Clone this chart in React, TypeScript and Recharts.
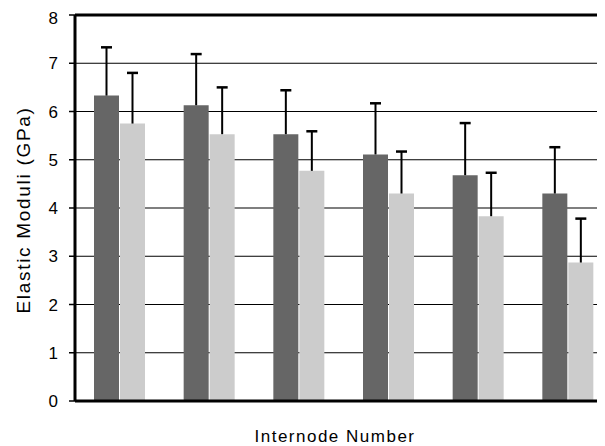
import React from "react";
import { BarChart, Bar, XAxis, YAxis, CartesianGrid, ReferenceLine } from "recharts";

// internode groups
const categories = ["1", "2", "3", "4", "5", "6"];
const darkValues = [6.33, 6.13, 5.53, 5.11, 4.68, 4.3];
const darkErrors = [1.0, 1.06, 0.91, 1.06, 1.08, 0.96];
const lightValues = [5.75, 5.53, 4.77, 4.3, 3.83, 2.87];
const lightErrors = [1.05, 0.97, 0.82, 0.87, 0.9, 0.91];
const yTicks = [0, 1, 2, 3, 4, 5, 6, 7, 8];

const data = categories.map((name, i) => ({
    name,
    dark: darkValues[i],
    darkErr: darkErrors[i],
    light: lightValues[i],
    lightErr: lightErrors[i],
}));

// upper-only whisker drawn as a stacked segment on top of the bar
const Whisker = (props: any) => {
    const { x, y, width, height } = props;
    if (height == null || width == null) return null;
    const cx = x + width / 2;
    return (
        <g>
            <line x1={cx} x2={cx} y1={y + height} y2={y} stroke="#000" strokeWidth={2} />
            <line x1={cx - 5.5} x2={cx + 5.5} y1={y} y2={y} stroke="#000" strokeWidth={2.5} />
        </g>
    );
};

const App = () => {
    return (
        <div style={{ width: 597, height: 438, overflow: "hidden" }}>
            <BarChart
                width={620}
                height={438}
                data={data}
                margin={{ top: 7, right: 15, left: 0, bottom: 0 }}
                barGap={1}
                barSize={25}
                style={{ fontFamily: "'Liberation Sans', Arial, sans-serif" }}
            >
                <CartesianGrid vertical={false} stroke="#000" strokeWidth={1.2} />
                <XAxis
                    dataKey="name"
                    tick={false}
                    tickLine={false}
                    height={45}
                    axisLine={{ stroke: "#000", strokeWidth: 3 }}
                    label={{
                        value: "Internode Number",
                        position: "insideBottom",
                        offset: 4,
                        dx: -9,
                        fill: "#000",
                        fontSize: 17,
                        letterSpacing: 1.5,
                    }}
                />
                <YAxis
                    domain={[0, 8]}
                    ticks={yTicks}
                    width={67}
                    tickSize={6}
                    tickMargin={11}
                    tick={{ fill: "#000", fontSize: 17 }}
                    tickLine={{ stroke: "#000", strokeWidth: 1.5 }}
                    axisLine={{ stroke: "#000", strokeWidth: 3 }}
                    label={{
                        value: "Elastic Moduli (GPa)",
                        angle: -90,
                        position: "insideLeft",
                        offset: 15,
                        dy: 2,
                        textAnchor: "middle",
                        fill: "#000",
                        fontSize: 19,
                        letterSpacing: 1.7,
                    }}
                />
                <ReferenceLine y={8} stroke="#000" strokeWidth={3} />
                <Bar dataKey="dark" stackId="a" fill="#666666" isAnimationActive={false} />
                <Bar dataKey="darkErr" stackId="a" fill="none" shape={Whisker} isAnimationActive={false} />
                <Bar dataKey="light" stackId="b" fill="#cccccc" isAnimationActive={false} />
                <Bar dataKey="lightErr" stackId="b" fill="none" shape={Whisker} isAnimationActive={false} />
            </BarChart>
        </div>
    );
};

export default App;
